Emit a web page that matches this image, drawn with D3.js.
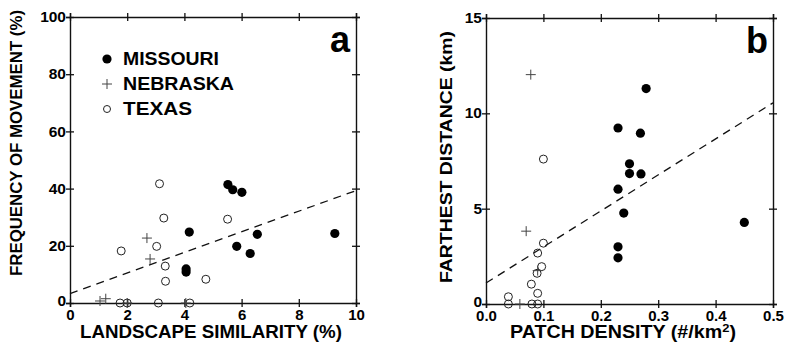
<!DOCTYPE html>
<html>
<head>
<meta charset="utf-8">
<script src="https://cdn.jsdelivr.net/npm/d3@7"></script>
<style>
  body { margin: 0; background: #fff; }
  svg { display: block; font-family: "Liberation Sans", Arial, Helvetica, sans-serif; font-weight: bold; }
</style>
</head>
<body>
<svg id="chart" width="785" height="348"></svg>
<script>
// ---------- Panel a data ----------
const aMissouriX = [5.52, 5.69, 6.01, 4.17, 4.06, 4.06, 5.83, 6.30, 6.55, 9.26];
const aMissouriY = [41.4, 39.6, 38.7, 24.8, 11.9, 10.8, 19.8, 17.3, 24.0, 24.3];
const aNebraskaX = [2.69, 2.80, 1.05, 1.25, 2.0, 4.05];
const aNebraskaY = [22.7, 15.4, 0.7, 1.5, 0, 0];
const aTexasX = [3.13, 3.28, 5.51, 3.03, 1.79, 3.33, 3.34, 4.75, 1.75, 2.0, 3.09, 4.19];
const aTexasY = [41.7, 29.7, 29.3, 19.8, 18.2, 12.9, 7.6, 8.3, 0, 0, 0, 0];
const aFit = { intercept: 3.3, slope: 3.6 };
const aXTicks = [0, 2, 4, 6, 8, 10];
const aYTicks = [0, 20, 40, 60, 80, 100];

// ---------- Panel b data ----------
const bMissouriX = [0.279, 0.230, 0.269, 0.250, 0.250, 0.270, 0.230, 0.240, 0.230, 0.230, 0.450];
const bMissouriY = [11.3, 9.23, 8.96, 7.35, 6.84, 6.82, 6.02, 4.77, 3.0, 2.42, 4.28];
const bNebraskaX = [0.078, 0.070, 0.090, 0.059];
const bNebraskaY = [12.03, 3.82, 1.75, 0];
const bTexasX = [0.100, 0.100, 0.090, 0.097, 0.089, 0.079, 0.090, 0.039, 0.039, 0.080, 0.090];
const bTexasY = [7.6, 3.19, 2.67, 1.96, 1.61, 1.04, 0.56, 0.38, 0, 0, 0];
const bFit = { intercept: 1.1, slope: 18.9 };
const bXTicks = [0.0, 0.1, 0.2, 0.3, 0.4, 0.5];
const bYTicks = [0, 5, 10, 15];

const legendLabels = ["MISSOURI", "NEBRASKA", "TEXAS"];
const legendWidths = [96, 111, 69];

const svg = d3.select("#chart");

function zip(xs, ys) { return xs.map((x, i) => [x, ys[i]]); }

function drawPanel(cfg) {
  const g = svg.append("g");
  const x = d3.scaleLinear().domain(cfg.xDomain).range([cfg.left, cfg.right]);
  const y = d3.scaleLinear().domain(cfg.yDomain).range([cfg.bottom, cfg.top]);

  const bx = g.append("g").attr("transform", `translate(0,${cfg.bottom})`)
    .call(d3.axisBottom(x).tickValues(cfg.xTicks).tickSize(4).tickPadding(2).tickFormat(cfg.xFmt));
  const tx = g.append("g").attr("transform", `translate(0,${cfg.top})`)
    .call(d3.axisTop(x).tickValues(cfg.xTicks).tickSize(4).tickFormat(""));
  const ly = g.append("g").attr("transform", `translate(${cfg.left},0)`)
    .call(d3.axisLeft(y).tickValues(cfg.yTicks).tickSize(4).tickPadding(0).tickFormat(d3.format("d")));
  const ry = g.append("g").attr("transform", `translate(${cfg.right},0)`)
    .call(d3.axisRight(y).tickValues(cfg.yTicks).tickSize(4).tickFormat(""));

  [bx, tx].forEach(a => a.selectAll(".tick line").attr("y1", -4).attr("y2", 4));
  [ly, ry].forEach(a => a.selectAll(".tick line").attr("x1", -4).attr("x2", 4));
  [bx, tx, ly, ry].forEach(a => {
    a.select(".domain").attr("stroke", "#111").attr("stroke-width", 1.4);
    a.selectAll(".tick line").attr("stroke", "#111").attr("stroke-width", 1.3);
    a.selectAll("text").attr("font-family", "Liberation Sans, Arial, sans-serif")
      .attr("font-weight", "bold").attr("font-size", 15.5).attr("fill", "#000");
  });
  ly.selectAll(".tick text").attr("dy", d => d === 0 ? "0.15em" : "0.3em");
  bx.selectAll(".tick text").attr("font-size", 15);

  const line = d3.line().x(d => x(d[0])).y(d => y(d[1]));
  g.append("path")
    .datum(cfg.xDomain.map(v => [v, cfg.fit.intercept + cfg.fit.slope * v]))
    .attr("d", line)
    .attr("fill", "none").attr("stroke", "#111").attr("stroke-width", 1.3)
    .attr("stroke-dasharray", "8,6");

  g.selectAll(".tx").data(zip(cfg.texX, cfg.texY)).enter().append("circle")
    .attr("cx", d => x(d[0])).attr("cy", d => y(d[1])).attr("r", 4)
    .attr("fill", "none").attr("stroke", "#222").attr("stroke-width", 1);
  g.selectAll(".nb").data(zip(cfg.nebX, cfg.nebY)).enter().append("path")
    .attr("d", d => `M${x(d[0]) - 5},${y(d[1])}h10M${x(d[0])},${y(d[1]) - 5}v10`)
    .attr("stroke", "#444").attr("stroke-width", 1);
  g.selectAll(".mo").data(zip(cfg.moX, cfg.moY)).enter().append("circle")
    .attr("cx", d => x(d[0])).attr("cy", d => y(d[1])).attr("r", 4.6)
    .attr("fill", "#000");

  g.append("text").attr("x", cfg.right - 16).attr("y", cfg.top + 35)
    .attr("text-anchor", "middle").attr("font-size", 36).attr("font-weight", "bold")
    .text(cfg.letter);

  const xt = g.append("text").attr("x", cfg.xTitleX).attr("y", 338)
    .attr("text-anchor", "middle").attr("font-size", 17.5)
    .attr("textLength", cfg.xTitleLen).attr("lengthAdjust", "spacingAndGlyphs");
  cfg.xTitle(xt);
  g.append("text")
    .attr("transform", `translate(${cfg.yTitleX},${cfg.yTitleY}) rotate(-90)`)
    .attr("text-anchor", "middle").attr("font-size", 17)
    .attr("textLength", cfg.yTitleLen).attr("lengthAdjust", "spacingAndGlyphs")
    .text(cfg.yTitle);
  return { g, x, y };
}

const pa = drawPanel({
  left: 70, right: 356, top: 17, bottom: 303,
  xDomain: [0, 10], yDomain: [0, 100], xTicks: aXTicks, yTicks: aYTicks,
  xFmt: d3.format("d"),
  fit: aFit, moX: aMissouriX, moY: aMissouriY, nebX: aNebraskaX, nebY: aNebraskaY,
  texX: aTexasX, texY: aTexasY, letter: "a",
  xTitleX: 211, xTitleLen: 262, xTitle: t => t.text("LANDSCAPE SIMILARITY (%)"),
  yTitleX: 21.5, yTitleY: 143, yTitleLen: 266, yTitle: "FREQUENCY OF MOVEMENT (%)"
});

const pb = drawPanel({
  left: 486, right: 773, top: 18, bottom: 304,
  xDomain: [0, 0.5], yDomain: [0, 15], xTicks: bXTicks, yTicks: bYTicks,
  xFmt: d3.format(".1f"),
  fit: bFit, moX: bMissouriX, moY: bMissouriY, nebX: bNebraskaX, nebY: bNebraskaY,
  texX: bTexasX, texY: bTexasY, letter: "b",
  xTitleX: 623, xTitleLen: 226, xTitle: t => {
    t.append("tspan").text("PATCH DENSITY (#/km");
    t.append("tspan").attr("dy", -6).attr("font-size", 11.5).text("2");
    t.append("tspan").attr("dy", 6).text(")");
  },
  yTitleX: 452, yTitleY: 157, yTitleLen: 252, yTitle: "FARTHEST DISTANCE (km)"
});

const legend = pa.g.append("g");
legendLabels.forEach((lab, i) => {
  const cy = 59 + i * 25;
  const cx = 107;
  if (i === 0) legend.append("circle").attr("cx", cx).attr("cy", cy).attr("r", 4.6).attr("fill", "#000");
  if (i === 1) legend.append("path").attr("d", `M${cx - 5},${cy}h10M${cx},${cy - 5}v10`).attr("stroke", "#444").attr("stroke-width", 1);
  if (i === 2) legend.append("circle").attr("cx", cx).attr("cy", cy).attr("r", 3.5).attr("fill", "none").attr("stroke", "#222").attr("stroke-width", 1);
  legend.append("text").attr("x", 123).attr("y", cy).attr("dy", "0.36em")
    .attr("font-size", 18).attr("textLength", legendWidths[i])
    .attr("lengthAdjust", "spacingAndGlyphs").text(lab);
});
</script>
</body>
</html>
